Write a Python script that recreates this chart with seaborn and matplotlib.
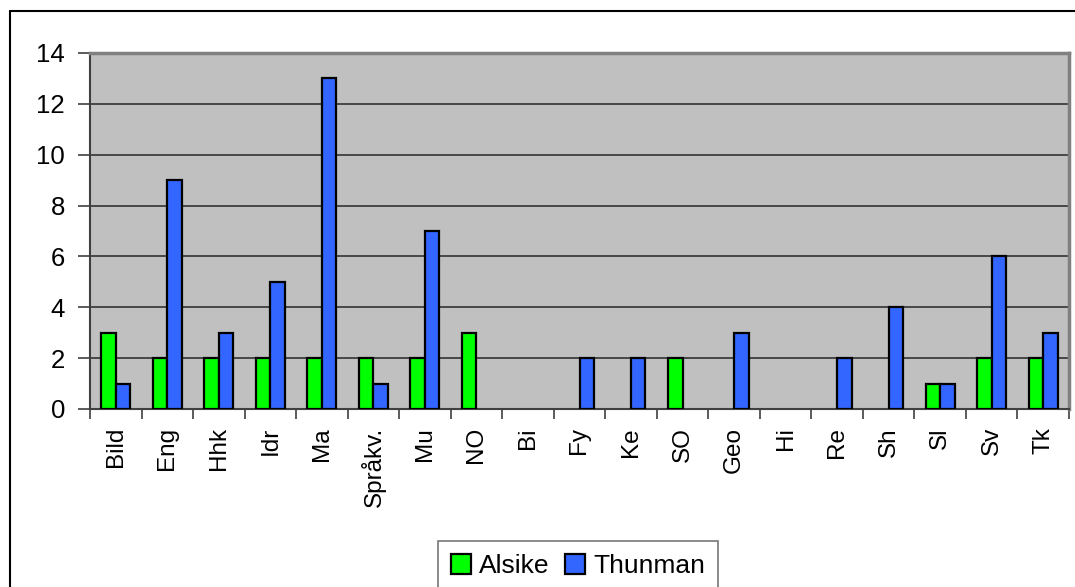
import matplotlib
matplotlib.use('Agg')
import matplotlib.pyplot as plt
from matplotlib.lines import Line2D
import numpy as np
import pandas as pd
import seaborn as sns

# ── Data ──────────────────────────────────────────────────────────────
subjects = ['Bild', 'Eng', 'Hhk', 'Idr', 'Ma', 'Språkv.', 'Mu', 'NO', 'Bi',
            'Fy', 'Ke', 'SO', 'Geo', 'Hi', 'Re', 'Sh', 'Sl', 'Sv', 'Tk']
alsike  = [3, 2, 2, 2, 2, 2, 2, 3, 0, 0, 0, 2, 0, 0, 0, 0, 1, 2, 2]
thunman = [1, 9, 3, 5, 13, 1, 7, 0, 0, 2, 2, 0, 3, 0, 2, 4, 1, 6, 3]
schools = ['Alsike', 'Thunman']
colors  = ['#00FF00', '#3366FF']
y_ticks = [0, 2, 4, 6, 8, 10, 12, 14]

df = pd.DataFrame({
    'subject': subjects * 2,
    'count':   alsike + thunman,
    'school':  [schools[0]] * len(subjects) + [schools[1]] * len(subjects),
})

sns.set_style('white')
plt.rcParams['font.family'] = ['Liberation Sans', 'DejaVu Sans']
plt.rcParams['text.color'] = 'black'
plt.rcParams['xtick.labelcolor'] = 'black'
plt.rcParams['ytick.labelcolor'] = 'black'

W, H = 1075, 587
fig = plt.figure(figsize=(W / 100, H / 100), dpi=100)
ax = fig.add_axes([90 / W, 1 - 409 / H, (1069 - 90) / W, (409 - 53) / H])
ax.set_facecolor('#C0C0C0')

sns.barplot(data=df, x='subject', y='count', hue='school',
            palette=colors, width=0.56, gap=0, edgecolor='black',
            linewidth=1.6, saturation=1, ax=ax, zorder=3)

# empty bars are not drawn at all in the original
for cont in ax.containers:
    for p in cont.patches:
        if p.get_height() == 0:
            p.set_linewidth(0)

ax.set_ylim(0, 14)
ax.set_xlim(-0.5, len(subjects) - 0.5)
ax.set_yticks(y_ticks)
ax.set_yticklabels([str(v) for v in y_ticks], fontsize=18.5, color='black')
ax.yaxis.grid(True, color='#333333', linewidth=1.2, zorder=1)
ax.set_axisbelow(True)

# x ticks: labels at centers, tick marks on category borders
ax.set_xticks(range(len(subjects)))
ax.set_xticklabels(subjects, rotation=90, fontsize=17.5, color='black')
ax.set_xticks(np.arange(-0.5, len(subjects), 1), minor=True)
ax.tick_params(axis='x', which='major', length=0, pad=13)
ax.tick_params(axis='x', which='minor', length=7, width=1.2,
               color='#404040', direction='out', bottom=True)
ax.tick_params(axis='y', length=9, width=1.2, color='#404040',
               direction='out', pad=9, left=True)

ax.set_xlabel('')
ax.set_ylabel('')

for side in ['left', 'bottom']:
    ax.spines[side].set_color('#404040')
    ax.spines[side].set_linewidth(1.5)
for side in ['top', 'right']:
    ax.spines[side].set_color('#808080')
    ax.spines[side].set_linewidth(2.5)

# legend
handles, labels = ax.get_legend_handles_labels()
ax.get_legend().remove()
leg = fig.legend(handles, labels, loc='upper center',
                 bbox_to_anchor=(578 / W, 1 - 541 / H),
                 ncol=2, fontsize=19, frameon=True, fancybox=False,
                 handlelength=0.75, handleheight=0.75, handletextpad=0.3,
                 columnspacing=0.6, borderpad=0.5, borderaxespad=0,
                 labelcolor='black')
leg.get_frame().set_edgecolor('#555555')
leg.get_frame().set_linewidth(1.2)
for h in leg.legend_handles:
    h.set_edgecolor('black')
    h.set_linewidth(1.6)

# outer chart frame (left and top edges visible)
fig.add_artist(Line2D([10 / W, 10 / W], [0, 1 - 11 / H],
                      color='black', linewidth=1.5))
fig.add_artist(Line2D([10 / W, 1], [1 - 11 / H, 1 - 11 / H],
                      color='black', linewidth=1.5))

fig.savefig('out.png', dpi=100)
plt.close(fig)
